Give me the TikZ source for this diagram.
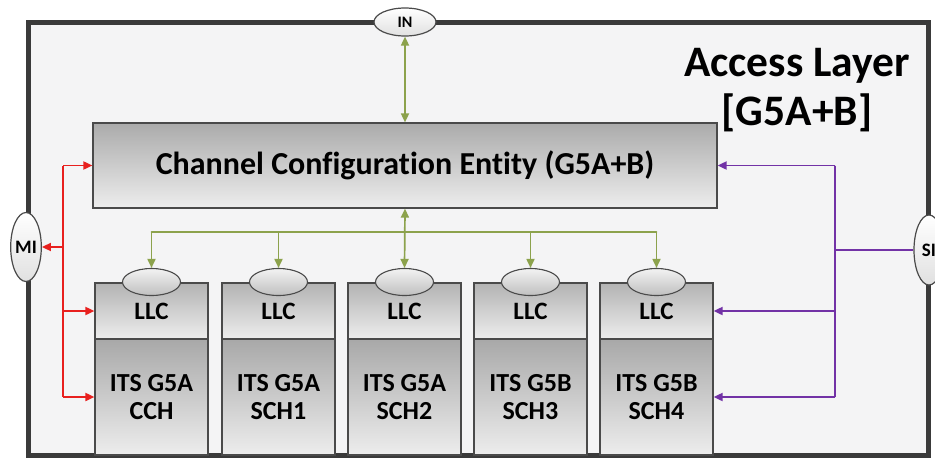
\documentclass[tikz,border=0pt]{standalone}
\usepackage{fontspec}
\setmainfont{Carlito}[Ligatures=NoCommon]
\usetikzlibrary{arrows.meta,shapes.geometric}
\definecolor{framecol}{HTML}{3A3A3A}
\definecolor{bgcol}{HTML}{F4F4F5}
\definecolor{boxline}{HTML}{4A4A4A}
\definecolor{gline}{HTML}{8CA24C}
\definecolor{rline}{HTML}{E8201E}
\definecolor{pline}{HTML}{7232A6}
\tikzset{
  gbox/.style={draw=boxline, line width=1.2pt, top color=#1, bottom color=white!93!black,
    inner sep=0pt, font=\bfseries, align=center},
  cce/.style={gbox=black!33, minimum width=624pt, minimum height=85pt, font=\bfseries\fontsize{32}{36}\selectfont},
  llcbox/.style={gbox=black!30, minimum width=113pt, minimum height=56pt, font=\bfseries\fontsize{25}{28}\selectfont},
  itsbox/.style={gbox=black!34, minimum width=113pt, minimum height=116pt, font=\bfseries\fontsize{26}{28}\selectfont},
  port/.style={ellipse, draw=boxline, line width=1.2pt, top color=white, bottom color=black!12,
    inner sep=0pt, font=\bfseries\fontsize{16}{17}\selectfont},
  sap/.style={ellipse, draw=boxline, line width=1.1pt, top color=white!95!black, bottom color=black!25,
    minimum width=58pt, minimum height=27pt, inner sep=0pt},
  titletext/.style={font=\bfseries\fontsize{43.5}{48}\selectfont, anchor=base},
  tip/.style={-{Triangle[length=9pt,width=8pt]}},
  tips/.style={{Triangle[length=9pt,width=8pt]}-{Triangle[length=9pt,width=8pt]}},
  gconn/.style={draw=gline, fill=gline, line width=1.7pt},
  rconn/.style={draw=rline, fill=rline, line width=1.8pt},
  pconn/.style={draw=pline, fill=pline, line width=1.8pt},
}
\begin{document}
\begin{tikzpicture}[x=1pt, y=-1pt]
\useasboundingbox (0,0) rectangle (935,459);
\clip (0,0) rectangle (935,459);
\fill[white] (0,0) rectangle (935,459);
% access layer frame
\fill[bgcol] (28,22) rectangle (928,455);
\draw[framecol, line width=5pt] (28,22) rectangle (928,455);

\node[titletext] (title1) at (797,76) {Access Layer};
\node[titletext] (title2) at (797,125) {[G5A+B]};

% channel configuration entity
\node[cce] (cce) at (405,165.5) {Channel Configuration Entity (G5A+B)};

% channel stacks
\foreach \i/\x/\ch/\sub in {1/151.5/G5A/CCH, 2/278.5/G5A/SCH1, 3/404.5/G5A/SCH2, 4/530.5/G5B/SCH3, 5/656.5/G5B/SCH4} {
  \node[itsbox] (its\i) at (\x,397) {ITS \ch\\\sub};
  \node[llcbox] (llc\i) at (\x,311) {\raisebox{-1pt}{LLC}};
  \node[sap] (el\i) at (\x,282) {};
}

% service access points on the frame
\node[port, minimum width=62pt, minimum height=28pt] (in) at (405,22) {IN};
\node[port, minimum width=28pt, minimum height=69pt, font=\bfseries\fontsize{19}{20}\selectfont] (mi) at (26,247) {MI};
\node[port, minimum width=30pt, minimum height=70pt, font=\bfseries\fontsize{19}{20}\selectfont] (si) at (929,250) {SI};

% IN <-> CCE and CCE <-> LLCs
\draw[gconn, tips] (in.south) -- (cce.north);
\draw[gconn, tips] (cce.south) -- (el3.north);
\foreach \i in {1,2,4,5} {
  \coordinate (gb\i) at (el\i.north |- 0,232);
}
\draw[gconn, line cap=round] (gb1) -- (gb5);
\foreach \i in {1,2,4,5} {
  \draw[gconn, tip] (gb\i) -- (el\i.north);
}

% management interface
\coordinate (rtop) at (63,165.5);
\coordinate (rmi) at (63,247);
\coordinate (rllc) at (63,311);
\coordinate (rits) at (63,397);
\draw[rconn] (rtop) -- (rits);
\draw[rconn, tip] (rtop) -- (cce.west);
\draw[rconn, tip] (rmi) -- (mi.east);
\draw[rconn, tip] (rllc) -- (llc1.west);
\draw[rconn, tip] (rits) -- (its1.west);

% security interface
\coordinate (ptop) at (835,165.5);
\coordinate (psi) at (835,250);
\coordinate (pllc) at (835,311);
\coordinate (pits) at (835,397);
\draw[pconn] (ptop) -- (pits);
\draw[pconn] (psi) -- (si.west);
\draw[pconn, tip] (ptop) -- (cce.east);
\draw[pconn, tip] (pllc) -- (llc5.east);
\draw[pconn, tip] (pits) -- (its5.east);
\end{tikzpicture}
\end{document}
